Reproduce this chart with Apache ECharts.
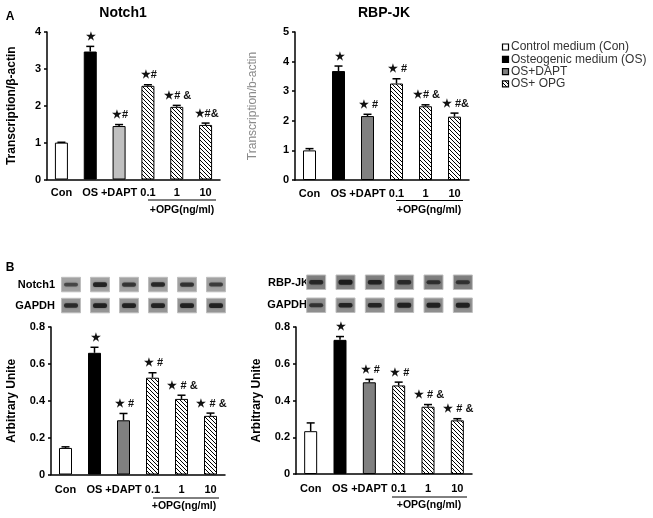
<!DOCTYPE html>
<html>
<head>
<meta charset="utf-8">
<script src="https://cdn.jsdelivr.net/npm/echarts@6/dist/echarts.min.js"></script>
<style>
  html, body { margin: 0; padding: 0; background: #fff; }
  #main { width: 653px; height: 518px; }
</style>
</head>
<body>
<div id="main"></div>
<script>
// groups on every x axis
const categories = ['Con', 'OS', '+DAPT', '0.1', '1', '10'];

// A: mRNA (transcription / beta-actin)
const notch1Mrna = [1.0, 3.47, 1.45, 2.54, 1.97, 1.48];
const notch1MrnaErr = [0.01, 0.14, 0.04, 0.03, 0.04, 0.05];
const rbpjkMrna = [1.0, 3.68, 2.16, 3.26, 2.49, 2.14];
const rbpjkMrnaErr = [0.06, 0.17, 0.06, 0.16, 0.05, 0.12];

// B: protein (arbitrary unit)
const notch1Prot = [0.144, 0.66, 0.294, 0.525, 0.41, 0.318];
const notch1ProtErr = [0.006, 0.03, 0.037, 0.027, 0.02, 0.015];
const rbpjkProt = [0.233, 0.73, 0.499, 0.482, 0.366, 0.292];
const rbpjkProtErr = [0.045, 0.018, 0.016, 0.018, 0.012, 0.009];

// significance marks above bars
const notch1MrnaNotes = ['', '★', '★#', '★#', '★# &', '★#&'];
const rbpjkMrnaNotes = ['', '★', '★ #', '★ #', '★# &', '★ #&'];
const notch1ProtNotes = ['', '★', '★ #', '★ #', '★ # &', '★ # &'];
const rbpjkProtNotes = ['', '★', '★ #', '★ #', '★ # &', '★ # &'];

// western blot band darkness per lane (0..1)
const notch1Bands = [0.35, 0.85, 0.6, 0.8, 0.65, 0.5];
const gapdhBandsN = [0.75, 0.9, 0.9, 0.9, 0.9, 0.9];
const rbpjkBands = [0.75, 1.0, 0.85, 0.7, 0.6, 0.55];
const gapdhBandsR = [0.6, 0.85, 0.85, 0.9, 0.9, 0.9];

const legendNames = ['Control medium (Con)', 'Osteogenic medium (OS)', 'OS+DAPT', 'OS+ OPG'];

const FONT = '"Liberation Sans", Arial, sans-serif';

// diagonal hatch for OPG bars
function makeHatch() {
    const s = 4;
    const c = document.createElement('canvas');
    c.width = s; c.height = s;
    const ctx = c.getContext('2d');
    ctx.fillStyle = '#fff';
    ctx.fillRect(0, 0, s, s);
    ctx.strokeStyle = '#000';
    ctx.lineWidth = 1;
    for (let k = -1; k <= 1; k++) {
        ctx.beginPath();
        ctx.moveTo(0, k * s);
        ctx.lineTo(s, s + k * s);
        ctx.stroke();
    }
    return c;
}
const hatch = { image: makeHatch(), repeat: 'repeat' };

function fillFor(i, daptGray) {
    if (i === 0) return '#ffffff';
    if (i === 1) return '#000000';
    if (i === 2) return daptGray;
    return hatch;
}

function barData(values, daptGray) {
    return values.map((v, i) => ({
        value: v,
        itemStyle: { color: fillFor(i, daptGray), borderColor: '#000', borderWidth: 1 }
    }));
}

function errorSeries(idx, values, errs, notes) {
    return {
        type: 'custom',
        xAxisIndex: idx,
        yAxisIndex: idx,
        z: 5,
        data: values.map((v, i) => [i, v, errs[i]]),
        encode: { x: 0, y: 1 },
        renderItem: function (params, api) {
            const i = api.value(0);
            const v = api.value(1);
            const e = api.value(2);
            const base = api.coord([i, v]);
            const top = api.coord([i, v + e]);
            const half = 4;
            return {
                type: 'group',
                children: [
                    { type: 'line', shape: { x1: base[0], y1: base[1], x2: top[0], y2: top[1] }, style: { stroke: '#000', lineWidth: 1.5 } },
                    { type: 'line', shape: { x1: top[0] - half, y1: top[1], x2: top[0] + half, y2: top[1] }, style: { stroke: '#000', lineWidth: 1.5 } },
                    {
                        type: 'text',
                        style: {
                            text: notes[params.dataIndex], x: top[0] + 1, y: top[1] - 4,
                            align: 'center', verticalAlign: 'bottom',
                            font: 'bold 11px ' + FONT, fill: '#111'
                        }
                    }
                ]
            };
        }
    };
}

function blotSeries(idx, topVal, rows) {
    // rows: [{bands, bg, up}]
    return {
        type: 'custom',
        xAxisIndex: idx,
        yAxisIndex: idx,
        silent: true,
        data: categories.map((c, i) => [i, topVal]),
        encode: { x: 0, y: 1 },
        renderItem: function (params, api) {
            const i = api.value(0);
            const p = api.coord([i, api.value(1)]);
            const w = 19, h = 14.5;
            const x = p[0] + 5.5 - w / 2;
            const children = [];
            rows.forEach(r => {
                const y = p[1] - r.up;
                const d = r.bands[params.dataIndex];
                children.push({ type: 'rect', shape: { x: x, y: y, width: w, height: h }, style: { fill: r.bg, stroke: '#bdbdbd', lineWidth: 1 } });
                children.push({
                    type: 'rect',
                    shape: { x: x + 2.5, y: y + h / 2 - 1.5 - d, width: w - 5, height: 3 + 2 * d, r: 2 },
                    style: { fill: 'rgba(25,25,25,' + (0.35 + 0.6 * d).toFixed(2) + ')', shadowBlur: 2, shadowColor: 'rgba(30,30,30,0.5)' }
                });
            });
            return { type: 'group', children: children };
        }
    };
}

const grids = [
    { left: 47, top: 32, width: 173, height: 147.5 },
    { left: 295, top: 32, width: 174, height: 148 },
    { left: 51, top: 327, width: 174, height: 147.5 },
    { left: 296, top: 327, width: 176, height: 147 }
];

function xAxisFor(idx, margin) {
    return {
        type: 'category', gridIndex: idx, data: categories,
        axisLine: { lineStyle: { color: '#000', width: 1.5 } },
        axisTick: { show: false },
        axisLabel: { color: '#000', fontFamily: FONT, fontWeight: 'bold', fontSize: 11, margin: margin, interval: 0 }
    };
}

function yAxisFor(idx, max, interval, name, nameGap, nameColor, nameBold) {
    return {
        type: 'value', gridIndex: idx, min: 0, max: max, interval: interval,
        name: name, nameLocation: 'middle', nameGap: nameGap,
        nameTextStyle: { color: nameColor, fontFamily: FONT, fontWeight: nameBold ? 'bold' : 'normal', fontSize: 12 },
        axisLine: { show: true, lineStyle: { color: '#000', width: 1.5 } },
        axisTick: { show: true, length: 3, lineStyle: { color: '#000', width: 1.5 } },
        splitLine: { show: false },
        axisLabel: { color: '#000', fontFamily: FONT, fontWeight: 'bold', fontSize: 11, margin: 6 }
    };
}

function bars(idx, values, daptGray) {
    return {
        type: 'bar', xAxisIndex: idx, yAxisIndex: idx,
        barWidth: 13, data: barData(values, daptGray), z: 3
    };
}

// text / decoration outside the plot areas
const graphics = [];
function txt(x, y, text, size, bold, align, color) {
    graphics.push({
        type: 'text', x: x, y: y,
        style: { text: text, font: (bold ? 'bold ' : '') + size + 'px ' + FONT, fill: color || '#000', align: align || 'center', verticalAlign: 'middle' }
    });
}
function hline(x1, x2, y) {
    graphics.push({ type: 'line', shape: { x1: x1, y1: y, x2: x2, y2: y }, style: { stroke: '#000', lineWidth: 1 } });
}

txt(10, 17, 'A', 12, true);
txt(10, 268, 'B', 12, true);
txt(123, 13, 'Notch1', 14, true);
txt(384, 13, 'RBP-JK', 14, true);

hline(148, 216, 200); txt(182, 210, '+OPG(ng/ml)', 10.5, true);
hline(396, 463, 200.5); txt(429, 210, '+OPG(ng/ml)', 10.5, true);
hline(153, 219, 498); txt(184, 506, '+OPG(ng/ml)', 10.5, true);
hline(392, 467, 497); txt(429, 505, '+OPG(ng/ml)', 10.5, true);

txt(55, 284.5, 'Notch1', 11, true, 'right');
txt(55, 305.5, 'GAPDH', 11, true, 'right');
txt(309, 283, 'RBP-JK', 11, true, 'right');
txt(307, 305, 'GAPDH', 11, true, 'right');

// legend
const legendFills = ['#ffffff', '#000000', '#808080', hatch];
legendNames.forEach((n, i) => {
    const y = 47 + i * 12.3;
    graphics.push({ type: 'rect', shape: { x: 502.5, y: y - 3, width: 6, height: 6 }, style: { fill: legendFills[i], stroke: '#000', lineWidth: 1.2 } });
    txt(511, y, n, 12, false, 'left', '#333');
});

const chart = echarts.init(document.getElementById('main'));
chart.setOption({
    animation: false,
    backgroundColor: '#fff',
    grid: grids,
    xAxis: [xAxisFor(0, 8), xAxisFor(1, 8), xAxisFor(2, 10), xAxisFor(3, 9)],
    yAxis: [
        yAxisFor(0, 4, 1, 'Transcription/β-actin', 29, '#000', true),
        yAxisFor(1, 5, 1, 'Transcription/b-actin', 36, '#8a8a8a', false),
        yAxisFor(2, 0.8, 0.2, 'Arbitrary Unite', 33, '#000', true),
        yAxisFor(3, 0.8, 0.2, 'Arbitrary Unite', 33, '#000', true)
    ],
    series: [
        bars(0, notch1Mrna, '#c0c0c0'),
        errorSeries(0, notch1Mrna, notch1MrnaErr, notch1MrnaNotes),
        bars(1, rbpjkMrna, '#808080'),
        errorSeries(1, rbpjkMrna, rbpjkMrnaErr, rbpjkMrnaNotes),
        bars(2, notch1Prot, '#808080'),
        errorSeries(2, notch1Prot, notch1ProtErr, notch1ProtNotes),
        blotSeries(2, 0.8, [
            { bands: notch1Bands, bg: '#a2a2a2', up: 49.7 },
            { bands: gapdhBandsN, bg: '#959595', up: 28.7 }
        ]),
        bars(3, rbpjkProt, '#808080'),
        errorSeries(3, rbpjkProt, rbpjkProtErr, rbpjkProtNotes),
        blotSeries(3, 0.8, [
            { bands: rbpjkBands, bg: '#7f7f7f', up: 52 },
            { bands: gapdhBandsR, bg: '#8e8e8e', up: 29 }
        ])
    ],
    graphic: graphics
});
</script>
</body>
</html>
